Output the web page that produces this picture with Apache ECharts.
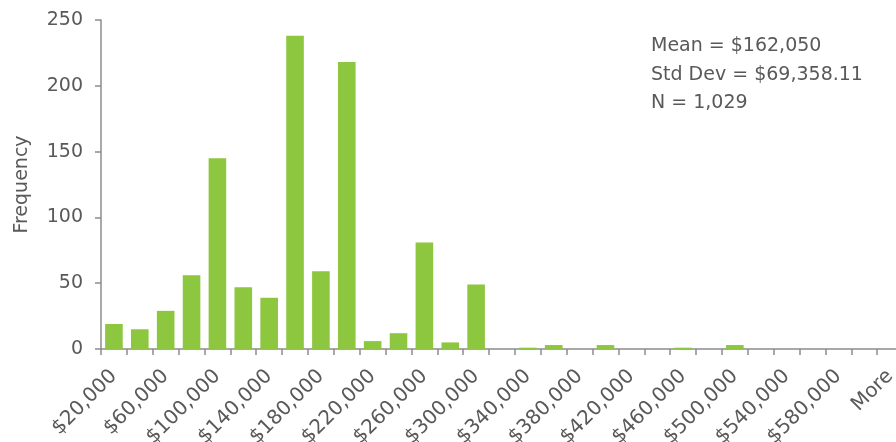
<!DOCTYPE html>
<html>
<head>
<meta charset="utf-8">
<title>Histogram</title>
<script src="https://cdn.jsdelivr.net/npm/echarts@6/dist/echarts.min.js"></script>
<style>
  html, body { margin: 0; padding: 0; background: #fff; }
  #chart { width: 896px; height: 442px; }
</style>
</head>
<body>
<div id="chart"></div>
<script>
// bins (upper edge) and counts
var bins = [];
for (var k = 1; k <= 30; k++) {
    bins.push('$' + (k * 20000).toLocaleString('en-US'));
}
bins.push('More');

var counts = [19, 15, 29, 56, 145, 47, 39, 238, 59, 218,
              6, 12, 81, 5, 49, 0, 1, 3, 0, 3,
              0, 0, 1, 0, 3, 0, 0, 0, 0, 0, 0];

var yTicks = { min: 0, max: 250, interval: 50 };
var statsLines = ['Mean = $162,050', 'Std Dev = $69,358.11', 'N = 1,029'];

var textColor = '#595959';
var axisColor = '#8c8c8c';
var font = 'DejaVu Sans, sans-serif';

var myChart = echarts.init(document.getElementById('chart'));

var option = {
    animation: false,
    grid: { left: 101, right: -7, top: 20, bottom: 93, containLabel: false, outerBoundsMode: 'none' },
    xAxis: {
        type: 'category',
        data: bins,
        axisLine: { lineStyle: { color: axisColor, width: 1.5 } },
        axisTick: { show: true, interval: 0, length: 6, lineStyle: { color: axisColor, width: 1.5 } },
        axisLabel: {
            interval: 1,
            rotate: 45,
            margin: 24,
            color: textColor,
            fontSize: 20,
            fontFamily: font
        }
    },
    yAxis: {
        type: 'value',
        min: yTicks.min,
        max: yTicks.max,
        interval: yTicks.interval,
        name: 'Frequency',
        nameLocation: 'middle',
        nameGap: 69,
        nameTextStyle: { color: textColor, fontSize: 19, fontFamily: font },
        axisLine: { show: true, lineStyle: { color: axisColor, width: 1.5 } },
        axisTick: { show: true, length: 6, lineStyle: { color: axisColor, width: 1.5 } },
        splitLine: { show: false },
        axisLabel: { color: textColor, fontSize: 19, fontFamily: font, margin: 18 }
    },
    series: [{
        type: 'bar',
        data: counts,
        barCategoryGap: '32%',
        itemStyle: { color: '#8DC63F' }
    }],
    graphic: [{
        type: 'text',
        left: 651,
        top: 32,
        style: {
            text: statsLines.join('\n'),
            fill: textColor,
            font: '19px ' + font,
            lineHeight: 28.5
        }
    }]
};

myChart.setOption(option);
</script>
</body>
</html>
